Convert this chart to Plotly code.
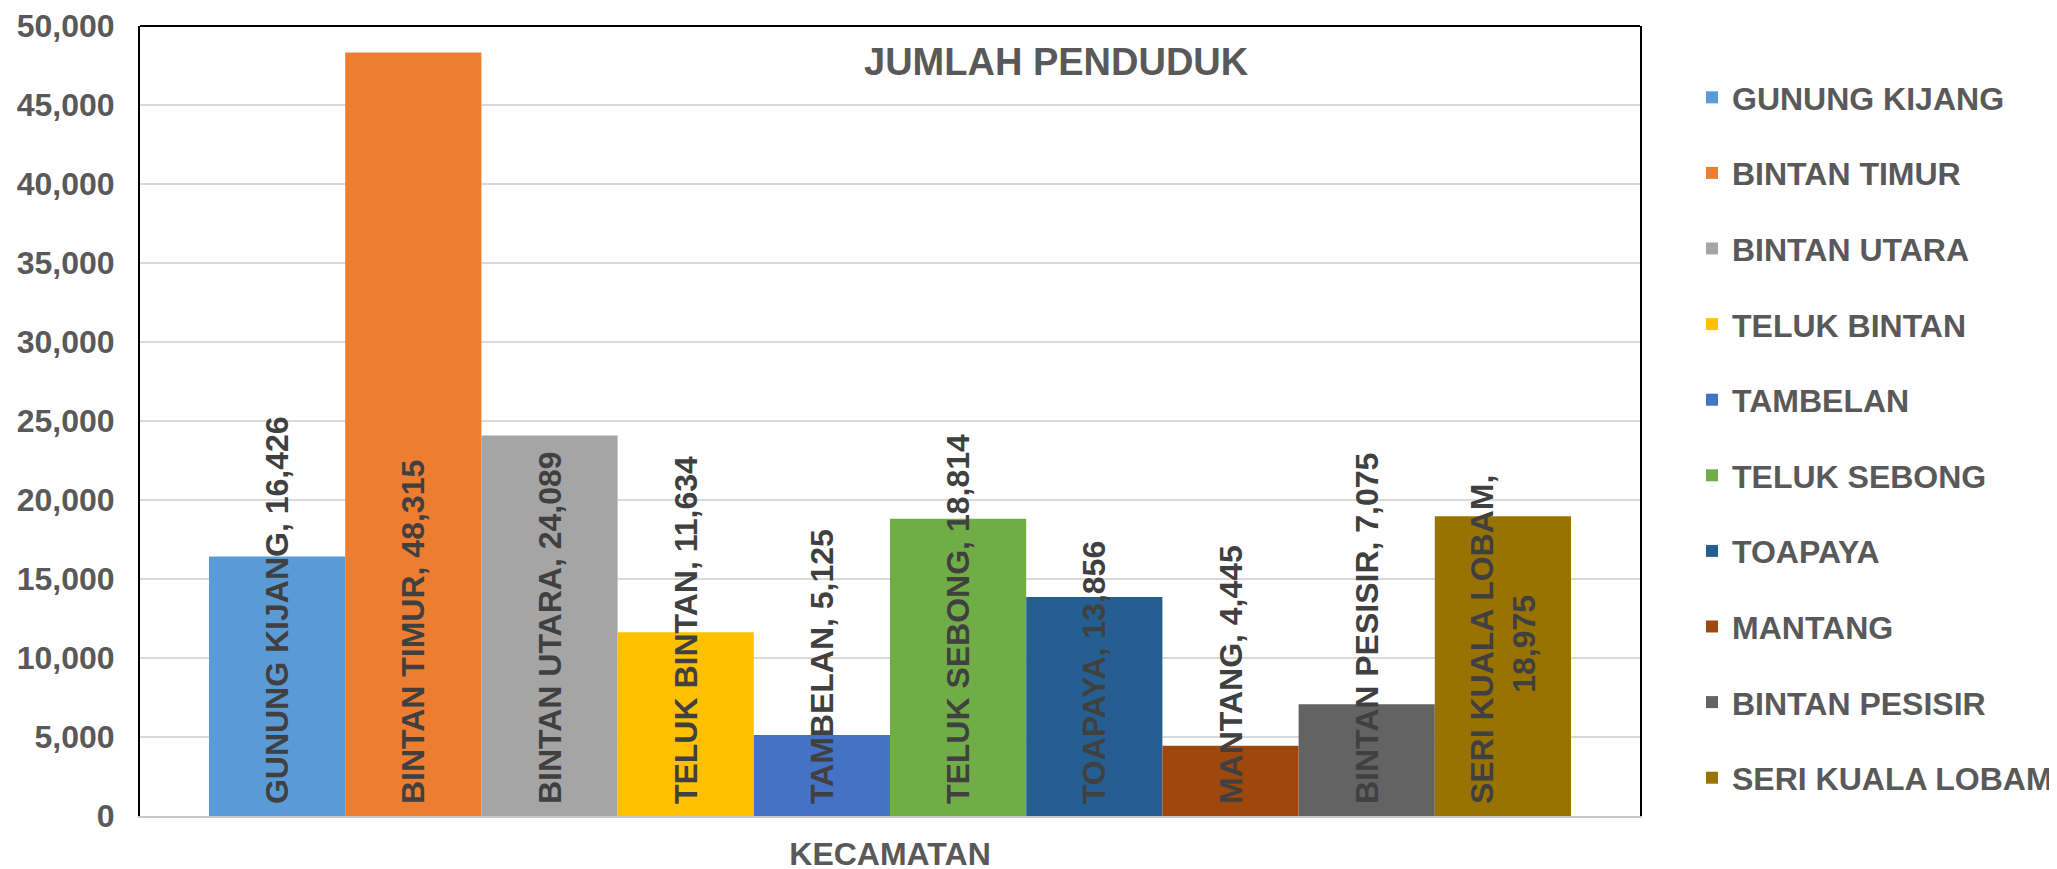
import plotly.graph_objects as go

# jumlah penduduk per kecamatan
kecamatan = ["GUNUNG KIJANG", "BINTAN TIMUR", "BINTAN UTARA", "TELUK BINTAN",
             "TAMBELAN", "TELUK SEBONG", "TOAPAYA", "MANTANG",
             "BINTAN PESISIR", "SERI KUALA LOBAM"]
penduduk = [16426, 48315, 24089, 11634, 5125, 18814, 13856, 4445, 7075, 18975]
warna = ["#5B9BD5", "#ED7D31", "#A5A5A5", "#FFC000", "#4472C4",
         "#70AD47", "#255E91", "#9E480E", "#636363", "#997300"]
kategori = ["KECAMATAN"]
y_ticks = [0, 5000, 10000, 15000, 20000, 25000, 30000, 35000, 40000, 45000, 50000]

FONT = "Liberation Sans, Arial, sans-serif"
GREY = "#595959"

# the page body has an 8px margin, so the figure is 8px smaller than the window
W, H = 2049, 861
L, R, T, B = 132, 417, 18, 53
pw, ph = W - L - R, H - T - B

fig = go.Figure()
for nama, nilai, c in zip(kecamatan, penduduk, warna):
    label = f"\u00a0{nama}, {nilai:,}"
    if nama == "SERI KUALA LOBAM":
        label = f"\u00a0{nama},<br>{nilai:,}"
    fig.add_trace(go.Bar(
        x=kategori, y=[nilai], name=nama,
        marker=dict(color=c, line=dict(width=0)),
        text=[label], textposition="inside", insidetextanchor="start",
        textangle=-90, constraintext="none",
        insidetextfont=dict(family=FONT, size=32, color="#404040", weight="bold"),
        legendgroup=nama,
    ))

fig.update_layout(
    width=W, height=H,
    margin=dict(l=L, r=R, t=T, b=B, autoexpand=False),
    paper_bgcolor="white", plot_bgcolor="white",
    barmode="group", bargap=0.092, bargroupgap=0,
    showlegend=True,
    legend=dict(
        x=(1684 - L) / pw, y=(808 - 62) / ph, xanchor="left", yanchor="top",
        font=dict(family=FONT, size=32, color=GREY, weight="bold"),
        traceorder="grouped", tracegroupgap=31,
        bgcolor="rgba(0,0,0,0)",
    ),
    xaxis=dict(
        showgrid=False, showline=True, linecolor="#C8C8C8", linewidth=2,
        ticks="", ticklabelstandoff=9,
        tickfont=dict(family=FONT, size=32, color=GREY, weight="bold"),
        automargin=False,
    ),
    yaxis=dict(
        range=[0, 50000], tickvals=y_ticks, tickformat=",",
        showgrid=True, gridcolor="#D9D9D9", gridwidth=2,
        showline=True, linecolor="black", linewidth=2, mirror=True,
        zeroline=False, ticks="", ticklabelstandoff=17,
        tickfont=dict(family=FONT, size=32, color=GREY, weight="bold"),
        automargin=False,
    ),
    annotations=[dict(
        x=(1048 - L) / pw, y=(808 - 54) / ph, xref="paper", yref="paper",
        text="JUMLAH PENDUDUK", showarrow=False, xanchor="center", yanchor="middle",
        font=dict(family=FONT, size=38, color=GREY, weight="bold"),
    )],
    shapes=[dict(type="line", xref="paper", yref="paper", x0=0, x1=1, y0=1, y1=1,
                 line=dict(color="black", width=2))],
)

fig.write_html("out.html")
